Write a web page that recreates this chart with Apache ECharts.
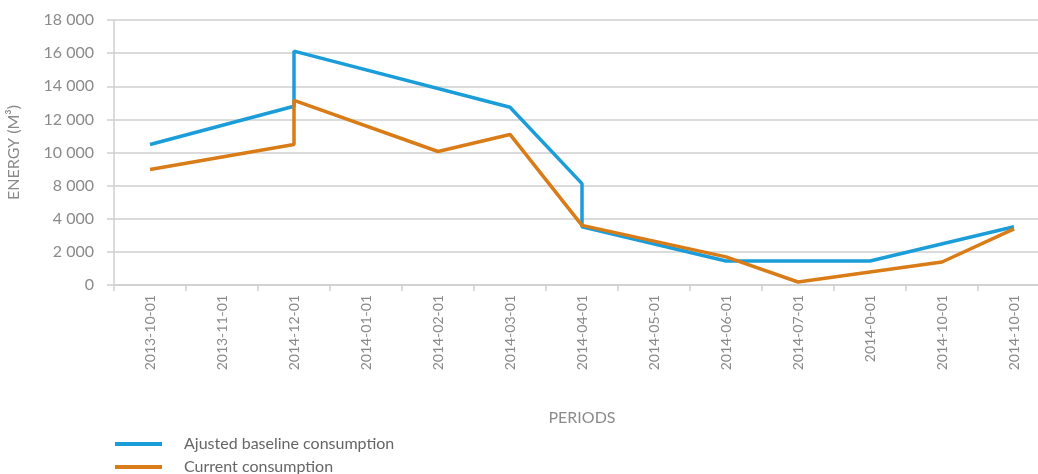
<!DOCTYPE html>
<html>
<head>
    <meta charset="UTF-8">
    <title>Energy consumption</title>
    <script src="https://cdn.jsdelivr.net/npm/echarts@6/dist/echarts.min.js"></script>
    <style>
        html, body { margin: 0; padding: 0; background: #fff; }
        #chart { width: 1038px; height: 474px; }
    </style>
</head>
<body>
<div id="chart"></div>
<script>
    // categories (the last label really appears twice in the source)
    var periods = ['2013-10-01', '2013-11-01', '2014-12-01', '2014-01-01', '2014-02-01', '2014-03-01',
        '2014-04-01', '2014-05-01', '2014-06-01', '2014-07-01', '2014-0-01', '2014-10-01', '2014-10-01'];

    // printed y labels (the source skips "6 000")
    var yTickLabels = ['0', '2 000', '4 000', '8 000', '10 000', '12 000', '14 000', '16 000', '18 000'];

    // [category index, value] - repeated index = vertical jump
    var baseline = [[0, 8480], [2, 10790], [2, 14120], [5, 10730], [6, 6120], [6, 3520],
        [8, 1450], [10, 1450], [12, 3520]];
    var current = [[0, 6970], [2, 8480], [2, 11150], [4, 8060], [5, 9090], [6, 3600],
        [8, 1700], [9, 180], [11, 1390], [12, 3390]];

    var grey = '#8a8a8a';
    var lineGrey = '#cfcfcf';
    var font = 'Lato';

    function legendItem(name, top) {
        return {
            orient: 'vertical',
            left: 110,
            top: top,
            icon: 'rect',
            itemWidth: 47,
            itemHeight: 4,
            textStyle: { color: '#666', fontSize: 16, fontFamily: font, padding: [0, 0, 0, 17] },
            data: [name]
        };
    }

    var chart = echarts.init(document.getElementById('chart'));
    chart.setOption({
        animation: false,
        grid: { left: 114, top: 20, width: 936, height: 265, containLabel: false, outerBoundsMode: 'none' },
        legend: [
            legendItem('Ajusted baseline consumption', 431),
            legendItem('Current consumption', 454)
        ],
        xAxis: {
            type: 'category',
            data: periods,
            boundaryGap: true,
            name: 'PERIODS',
            nameLocation: 'middle',
            nameGap: 125,
            nameTextStyle: { color: grey, fontSize: 16, fontFamily: font },
            axisLine: { lineStyle: { color: lineGrey, width: 1.5 } },
            axisTick: { show: true, length: 6, lineStyle: { color: lineGrey, width: 1.5 } },
            axisLabel: { rotate: 90, margin: 10, color: grey, fontSize: 14, fontFamily: font, interval: 0 }
        },
        yAxis: {
            type: 'value',
            min: 0,
            max: 16000,
            interval: 2000,
            name: 'ENERGY (M³)',
            nameLocation: 'middle',
            nameGap: 92,
            nameTextStyle: { color: grey, fontSize: 16, fontFamily: font },
            axisLine: { show: true, lineStyle: { color: lineGrey, width: 1.5 } },
            axisTick: { show: true, length: 7, lineStyle: { color: lineGrey, width: 1.5 } },
            splitLine: { lineStyle: { color: lineGrey, width: 1.5 } },
            axisLabel: {
                margin: 20, color: grey, fontSize: 16, fontFamily: font,
                formatter: function (v, i) { return yTickLabels[i]; }
            }
        },
        series: [
            {
                name: 'Ajusted baseline consumption',
                type: 'line',
                data: baseline,
                symbol: 'none',
                color: '#1b9dd9',
                lineStyle: { width: 3.5 }
            },
            {
                name: 'Current consumption',
                type: 'line',
                data: current,
                symbol: 'none',
                color: '#d97c17',
                lineStyle: { width: 3.5 }
            }
        ]
    });
</script>
</body>
</html>
